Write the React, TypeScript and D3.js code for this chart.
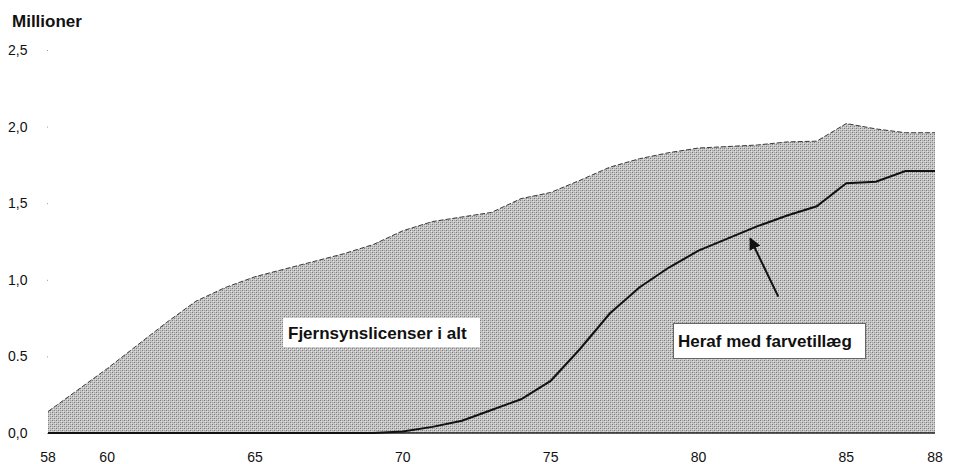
import React, { useEffect, useRef } from 'react';
import * as d3 from 'd3';

const years = [
  58, 59, 60, 61, 62, 63, 64, 65, 66, 67, 68, 69, 70, 71, 72, 73, 74, 75, 76,
  77, 78, 79, 80, 81, 82, 83, 84, 85, 86, 87, 88,
];
const totalLicenses = [
  0.14, 0.28, 0.42, 0.57, 0.72, 0.86, 0.95, 1.02, 1.07, 1.12, 1.17, 1.23,
  1.32, 1.38, 1.41, 1.44, 1.53, 1.57, 1.65, 1.735, 1.79, 1.83, 1.86, 1.87,
  1.88, 1.9, 1.905, 2.02, 1.985, 1.96, 1.96,
];
const colorLicenses = [
  0, 0, 0, 0, 0, 0, 0, 0, 0, 0, 0, 0, 0.01, 0.04, 0.08, 0.15, 0.22, 0.34,
  0.55, 0.78, 0.95, 1.08, 1.19, 1.27, 1.35, 1.42, 1.48, 1.63, 1.64, 1.71,
  1.71,
];
const yTicks = [0, 0.5, 1, 1.5, 2, 2.5];
const yTickLabels = ['0,0', '0.5', '1,0', '1,5', '2,0', '2,5'];
const xTicks = [58, 60, 65, 70, 75, 80, 85, 88];

const width = 958;
const height = 464;
const font = 'Liberation Sans, Arial, sans-serif';

const drawChart = (el: SVGSVGElement) => {
  const svg = d3.select(el);
  svg.selectAll('*').remove();

  const x = d3.scaleLinear().domain([58, 88]).range([48, 935]);
  const y = d3.scaleLinear().domain([0, 2.5]).range([433, 50]);

  const data = years.map((yr, i) => ({
    yr,
    total: totalLicenses[i],
    color: colorLicenses[i],
  }));

  // dithered grey fill like the printed original
  const defs = svg.append('defs');
  const pat = defs
    .append('pattern')
    .attr('id', 'dither')
    .attr('width', 4)
    .attr('height', 4)
    .attr('patternUnits', 'userSpaceOnUse');
  pat.append('rect').attr('width', 4).attr('height', 4).attr('fill', '#c6c6c6');
  const dots: [number, number, string][] = [
    [0, 0, '#7a7a7a'],
    [2, 2, '#7a7a7a'],
    [2, 0, '#a2a2a2'],
    [0, 2, '#a2a2a2'],
    [1, 1, '#e2e2e2'],
    [3, 3, '#e2e2e2'],
  ];
  dots.forEach(([px, py, c]) =>
    pat.append('rect').attr('x', px).attr('y', py).attr('width', 1).attr('height', 1).attr('fill', c),
  );

  const area = d3
    .area<{ yr: number; total: number }>()
    .x((d) => x(d.yr))
    .y0(y(0))
    .y1((d) => y(d.total));

  svg
    .append('path')
    .datum(data)
    .attr('d', area)
    .attr('fill', 'url(#dither)');

  const topLine = d3
    .line<{ yr: number; total: number }>()
    .x((d) => x(d.yr))
    .y((d) => y(d.total));

  svg
    .append('path')
    .datum(data)
    .attr('d', topLine)
    .attr('fill', 'none')
    .attr('stroke', '#3a3a3a')
    .attr('stroke-width', 1)
    .attr('stroke-dasharray', '5,2');

  // baseline
  svg
    .append('line')
    .attr('x1', x(58))
    .attr('x2', x(88))
    .attr('y1', y(0))
    .attr('y2', y(0))
    .attr('stroke', '#222')
    .attr('stroke-width', 1.5);

  const colorLine = d3
    .line<{ yr: number; color: number }>()
    .x((d) => x(d.yr))
    .y((d) => y(d.color));

  svg
    .append('path')
    .datum(data)
    .attr('d', colorLine)
    .attr('fill', 'none')
    .attr('stroke', '#111')
    .attr('stroke-width', 2);

  // y axis: tiny tick dots and labels
  const yAxis = svg.append('g').attr('font-family', font).attr('font-size', 14);
  yAxis
    .selectAll('.tick-dot')
    .data(yTicks)
    .enter()
    .append('rect')
    .attr('x', x(58) - 1)
    .attr('y', (d) => y(d))
    .attr('width', 1)
    .attr('height', 1)
    .attr('fill', '#999');
  yAxis
    .selectAll('.tick-label')
    .data(yTicks)
    .enter()
    .append('text')
    .attr('x', 8)
    .attr('y', (d) => y(d) + 5)
    .attr('fill', '#111')
    .text((d, i) => yTickLabels[i]);

  svg
    .append('text')
    .attr('x', 12)
    .attr('y', 27)
    .attr('font-family', font)
    .attr('font-size', 17)
    .attr('font-weight', 'bold')
    .attr('fill', '#111')
    .text('Millioner');

  // x axis labels
  svg
    .append('g')
    .selectAll('text')
    .data(xTicks)
    .enter()
    .append('text')
    .attr('x', (d) => x(d))
    .attr('y', 462)
    .attr('text-anchor', 'middle')
    .attr('font-family', font)
    .attr('font-size', 14)
    .attr('fill', '#111')
    .text((d) => String(d));

  // annotation: total
  svg
    .append('rect')
    .attr('x', 283)
    .attr('y', 318)
    .attr('width', 197)
    .attr('height', 29)
    .attr('fill', '#fff');
  svg
    .append('text')
    .attr('x', 288)
    .attr('y', 339)
    .attr('font-family', font)
    .attr('font-size', 17)
    .attr('font-weight', 'bold')
    .attr('fill', '#111')
    .text('Fjernsynslicenser i alt');

  // annotation: colour
  svg
    .append('rect')
    .attr('x', 673.5)
    .attr('y', 323.5)
    .attr('width', 192)
    .attr('height', 35)
    .attr('fill', '#fff')
    .attr('stroke', '#666')
    .attr('stroke-width', 1);
  svg
    .append('text')
    .attr('x', 678)
    .attr('y', 347)
    .attr('font-family', font)
    .attr('font-size', 17)
    .attr('font-weight', 'bold')
    .attr('fill', '#111')
    .text('Heraf med farvetillæg');

  // arrow pointing at the colour line
  defs
    .append('marker')
    .attr('id', 'arrowhead')
    .attr('viewBox', '0 0 10 10')
    .attr('refX', 9)
    .attr('refY', 5)
    .attr('markerWidth', 6)
    .attr('markerHeight', 6)
    .attr('orient', 'auto')
    .append('path')
    .attr('d', 'M0,0L10,5L0,10Z')
    .attr('fill', '#111');

  svg
    .append('line')
    .attr('x1', x(82.7))
    .attr('y1', y(0.89))
    .attr('x2', x(81.75))
    .attr('y2', y(1.27))
    .attr('stroke', '#111')
    .attr('stroke-width', 2)
    .attr('marker-end', 'url(#arrowhead)');
};

export default function App() {
  const ref = useRef<SVGSVGElement>(null);

  useEffect(() => {
    if (ref.current) drawChart(ref.current);
  }, []);

  return (
    <svg
      ref={ref}
      width={width}
      height={height}
      style={{ position: 'absolute', left: 0, top: 0, background: '#fff' }}
    />
  );
}
